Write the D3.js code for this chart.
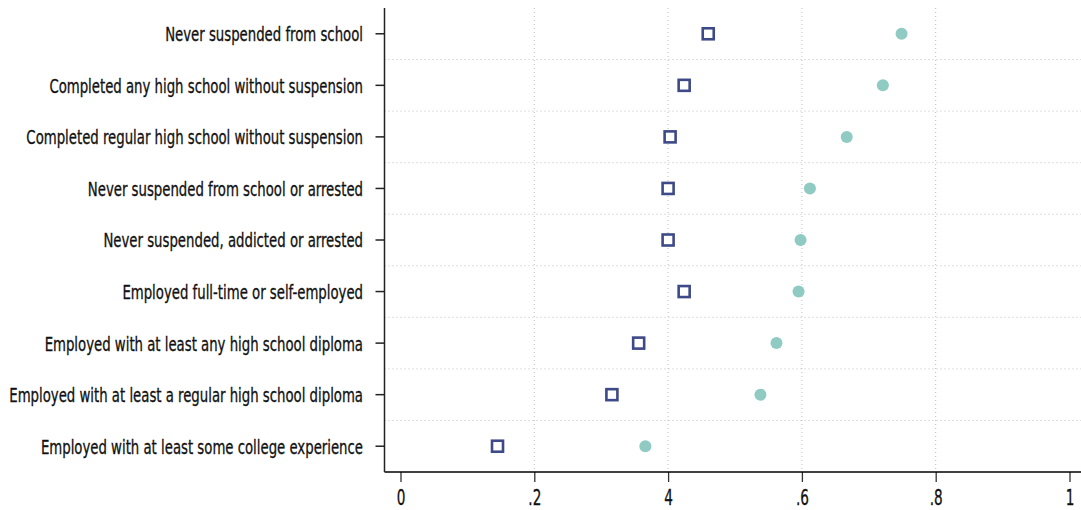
<!DOCTYPE html>
<html><head><meta charset="utf-8">
<script src="https://cdn.jsdelivr.net/npm/d3@7"></script>
<style>body{margin:0;background:#fff}</style>
</head><body><svg id="c" width="1081" height="510"></svg>
<script>
const categories = [
  "Never suspended from school",
  "Completed any high school without suspension",
  "Completed regular high school without suspension",
  "Never suspended from school or arrested",
  "Never suspended, addicted or arrested",
  "Employed full-time or self-employed",
  "Employed with at least any high school diploma",
  "Employed with at least a regular high school diploma",
  "Employed with at least some college experience"
];
const squareValues = [0.460, 0.424, 0.403, 0.400, 0.400, 0.424, 0.356, 0.316, 0.145];
const circleValues = [0.749, 0.721, 0.667, 0.612, 0.598, 0.595, 0.562, 0.538, 0.366];
const xTicks = [0, 0.2, 0.4, 0.6, 0.8, 1];
const xTickLabels = ["0", ".2", "4", ".6", ".8", "1"];
const gridTicks = [0.2, 0.4, 0.6, 0.8];

(function(){
const svg = d3.select("#c");
const font = "'DejaVu Sans Condensed','DejaVu Sans',sans-serif";
const pLeft = 384.5, pRight = 1081, pTop = 8, pBottom = 472;
const x = d3.scaleLinear().domain([0, 1]).range([400.5, 1069.5]);
const y = d3.scaleBand().domain(categories).range([pTop, pBottom]);
const yc = d => y(d) + y.bandwidth() / 2;

svg.append("g").selectAll("line").data(gridTicks).join("line")
  .attr("x1", d => x(d)).attr("x2", d => x(d)).attr("y1", pTop).attr("y2", pBottom)
  .attr("stroke", "#bdbdbd").attr("stroke-width", 1).attr("stroke-dasharray", "1,3");
svg.append("g").selectAll("line").data(categories.slice(1)).join("line")
  .attr("x1", pLeft).attr("x2", pRight).attr("y1", d => y(d)).attr("y2", d => y(d))
  .attr("stroke", "#bdbdbd").attr("stroke-width", 1).attr("stroke-dasharray", "1,3");

const xAxis = d3.axisBottom(x).tickValues(xTicks).tickFormat((d, i) => xTickLabels[i]).tickSizeOuter(0).tickSize(10).tickPadding(6);
const gx = svg.append("g").attr("transform", `translate(0,${pBottom})`).call(xAxis);
gx.select(".domain").remove();
gx.append("line").attr("x1", pLeft).attr("x2", pRight).attr("y1", 0).attr("y2", 0).attr("stroke", "#000").attr("stroke-width", 1.3);
gx.selectAll(".tick line").attr("stroke", "#333").attr("stroke-width", 1.3);
gx.selectAll(".tick text").attr("font-family", font).attr("font-size", 21).attr("fill", "#111")
  .attr("stroke", "#111").attr("stroke-width", 0.3)
  .attr("y", 0).attr("dy", 0)
  .attr("transform", "translate(0,33) scale(0.72,1)");

const yAxis = d3.axisLeft(y).tickSizeOuter(0).tickSize(9).tickPadding(12);
const gy = svg.append("g").attr("transform", `translate(${pLeft},0)`).call(yAxis);
gy.select(".domain").remove();
gy.append("line").attr("x1", 0).attr("x2", 0).attr("y1", pTop).attr("y2", pBottom).attr("stroke", "#222").attr("stroke-width", 1.5);
gy.selectAll(".tick line").attr("stroke", "#222").attr("stroke-width", 1.5);
gy.selectAll(".tick text").attr("font-family", font).attr("font-size", 19).attr("fill", "#111")
  .attr("stroke", "#111").attr("stroke-width", 0.3)
  .attr("x", 0).attr("dy", "0.34em").attr("transform", "translate(-21.5,1) scale(0.777,1)");

svg.append("g").selectAll("circle").data(categories).join("circle")
  .attr("cx", (d, i) => x(circleValues[i])).attr("cy", d => yc(d)).attr("r", 6)
  .attr("fill", "#8fcac3");
svg.append("g").selectAll("rect").data(categories).join("rect")
  .attr("x", (d, i) => x(squareValues[i]) - 5.5).attr("y", d => yc(d) - 5.5)
  .attr("width", 11).attr("height", 11)
  .attr("fill", "#fff").attr("stroke", "#3e4a87").attr("stroke-width", 2.6);
})();
</script></body></html>
